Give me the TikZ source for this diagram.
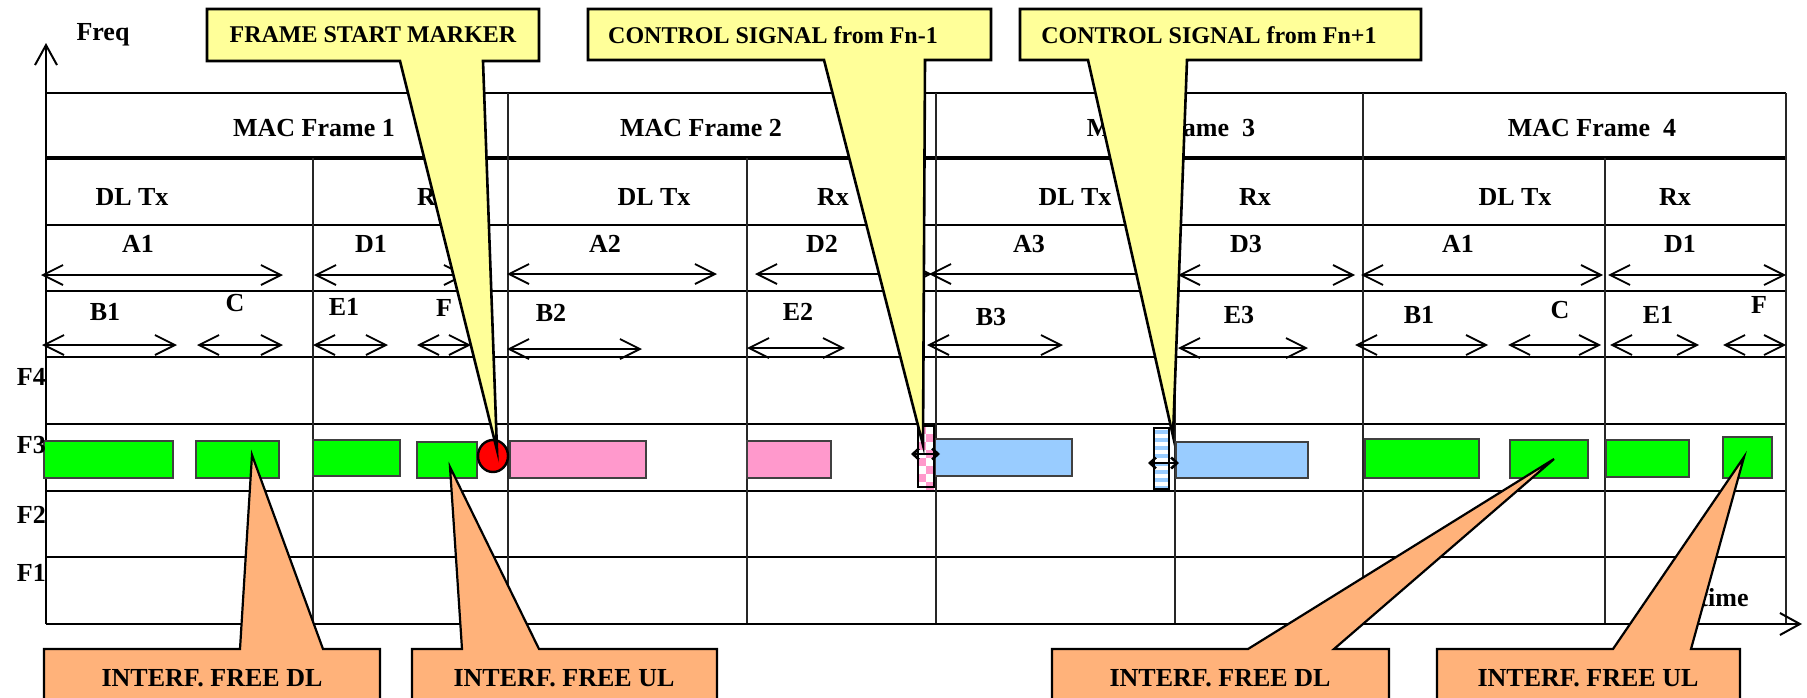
\documentclass[tikz,border=0pt]{standalone}
\usepackage{fontspec}
\setmainfont{Liberation Serif}
\usepackage{tikz}
\usetikzlibrary{arrows.meta}
\usepackage{xcolor}
\definecolor{calloutyellow}{RGB}{255,255,153}
\definecolor{calloutorange}{RGB}{255,178,122}
\definecolor{dlgreen}{RGB}{0,255,0}
\definecolor{ulpink}{RGB}{255,153,204}
\definecolor{ulblue}{RGB}{153,204,255}
\definecolor{markerred}{RGB}{255,0,0}
\tikzset{
  lbl/.style={font=\fontsize{26}{28}\selectfont\bfseries, inner sep=0pt},
  calloutlbl/.style={font=\fontsize{24}{26}\selectfont\bfseries, inner sep=0pt},
  rowline/.style={line width=2.2pt},
  colline/.style={line width=1.8pt, draw=black!85},
  axisarrow/.style={->, >={Straight Barb[length=20pt,width=22pt]}, line width=2pt},
  spanarrow/.style={<->, >={Straight Barb[length=20pt,width=20pt]}, line width=1.8pt},
  smallspan/.style={<->, >={Straight Barb[length=6pt,width=11pt]}, line width=2.6pt},
  dlblock/.style={fill=dlgreen, draw=black!75, line width=2pt},
  pinkblock/.style={fill=ulpink, draw=black!75, line width=2pt},
  blueblock/.style={fill=ulblue, draw=black!75, line width=2pt},
  yellowcallout/.style={fill=calloutyellow, draw=black, line width=2.6pt, line join=miter},
  orangecallout/.style={fill=calloutorange, draw=black, line width=2.2pt, line join=miter}
}

\begin{document}
\begin{tikzpicture}[x=1pt, y=-1pt]
  \useasboundingbox (0,0) rectangle (1807,697);
  \clip (0,0) rectangle (1807,697);

  % grid
  \foreach \y in {93,225,291,357,424,491,557,624}
    \draw[rowline] (46,\y) -- (1786,\y);
  \draw[rowline, line width=3.6pt] (46,158) -- (1786,158);
  \foreach \x in {508,936,1363,1786}
    \draw[colline] (\x,93) -- (\x,624);
  \foreach \x in {313,747,1175,1605}
    \draw[colline] (\x,158) -- (\x,624);

  % axes
  \coordinate (origin) at (46,624);
  \coordinate (freqtip) at (46,43);
  \coordinate (timetip) at (1802,624);
  \draw[axisarrow] (origin) -- (freqtip);
  \draw[axisarrow] (origin) -- (timetip);

  % spans
  \foreach \a/\b/\y in {41/283/275, 314/466/275, 507/717/274, 755/932/274,
      929/1170/274, 1178/1355/275, 1361/1603/275, 1608/1786/275,
      42/177/345, 197/283/345, 313/388/345, 417/471/345, 507/642/349,
      747/845/348, 927/1063/345, 1178/1308/348, 1355/1488/345,
      1508/1601/345, 1610/1699/345, 1723/1786/345}
    \draw[spanarrow] (\a,\y) -- (\b,\y);

  % bursts on F3
  \draw[dlblock] (44,441) rectangle (173,478);
  \draw[dlblock] (196,441) rectangle (279,478);
  \draw[dlblock] (313,440) rectangle (400,476);
  \draw[dlblock] (417,442) rectangle (477,478);
  \draw[pinkblock] (510,441) rectangle (646,478);
  \draw[pinkblock] (747,441) rectangle (831,478);
  \draw[blueblock] (935,439) rectangle (1072,476);
  \draw[blueblock] (1176,442) rectangle (1308,478);
  \draw[dlblock] (1365,439) rectangle (1479,478);
  \draw[dlblock] (1510,440) rectangle (1588,478);
  \draw[dlblock] (1606,440) rectangle (1689,477);
  \draw[dlblock] (1723,437) rectangle (1772,478);
  \draw[fill=markerred, line width=2.4pt] (493,456) ellipse (15 and 16);

  % control signals
  \fill[white] (918,426) rectangle (934,487);
  \foreach \i in {0,2,4,6} {
    \fill[ulpink] (918,{426+8*\i}) rectangle +(8,8);
    \fill[ulpink] (926,{434+8*\i}) rectangle +(8,8);
  }
  \draw[line width=2.5pt] (918,426) rectangle (934,487);
  \fill[white] (1154,428) rectangle (1169,489);
  \foreach \k in {0,...,7}
    \fill[ulblue] (1154,{430+8*\k}) rectangle +(15,4);
  \draw[line width=2.5pt] (1154,428) rectangle (1169,489);
  \draw[smallspan] (911,454) -- (940,454);
  \draw[smallspan] (1148,463) -- (1179,463);

  % labels
  \node[lbl] (freq) at (103,35) {Freq};
  \node[lbl] (time) at (1724,598) {time};
  \foreach \n/\y in {4/377,3/445,2/515,1/573}
    \node[lbl, anchor=east] (F\n) at (46,\y) {F\n};
  \node[lbl] (frame1) at (314,128) {MAC Frame 1};
  \node[lbl] (frame2) at (701,128) {MAC Frame 2};
  \node[lbl] (frame3) at (1171,128) {MAC Frame\ \ 3};
  \node[lbl] (frame4) at (1592,128) {MAC Frame\ \ 4};
  \foreach \x/\t/\n in {132/DL Tx/tx1, 433/Rx/rx1, 654/DL Tx/tx2, 833/Rx/rx2,
      1075/DL Tx/tx3, 1255/Rx/rx3, 1515/DL Tx/tx4, 1675/Rx/rx4}
    \node[lbl] (\n) at (\x,197) {\t};
  \foreach \x/\t/\n in {138/A1/a1, 371/D1/d1, 605/A2/a2, 822/D2/d2,
      1029/A3/a3, 1246/D3/d3, 1458/A1/a4, 1680/D1/d4}
    \node[lbl] (\n) at (\x,244) {\t};
  \foreach \x/\y/\t/\n in {105/312/B1/b1, 235/303/C/c1, 344/307/E1/e1,
      444/308/F/f1, 551/313/B2/b2, 798/312/E2/e2, 991/317/B3/b3,
      1239/315/E3/e3, 1419/315/B1/b4, 1560/310/C/c4, 1658/315/E1/e4,
      1759/305/F/f4}
    \node[lbl] (\n) at (\x,\y) {\t};

  % callouts
  \draw[yellowcallout] (207,9) -- (539,9) -- (539,61) -- (483,61) -- (497,450)
    -- (400,61) -- (207,61) -- cycle;
  \draw[yellowcallout] (588,9) -- (991,9) -- (991,60) -- (925,60) -- (923,445)
    -- (824,60) -- (588,60) -- cycle;
  \draw[yellowcallout] (1020,9) -- (1421,9) -- (1421,60) -- (1187,60) -- (1173,436)
    -- (1088,60) -- (1020,60) -- cycle;
  \node[calloutlbl] (marker) at (373,35) {FRAME START MARKER};
  \node[calloutlbl] (ctrlprev) at (773,35) {CONTROL SIGNAL from Fn-1};
  \node[calloutlbl] (ctrlnext) at (1209,35) {CONTROL SIGNAL from Fn+1};

  \draw[orangecallout] (44,712) -- (44,649) -- (240,649) -- (252,455) -- (323,649)
    -- (380,649) -- (380,712);
  \draw[orangecallout] (412,712) -- (412,649) -- (462,649) -- (450,467) -- (539,649)
    -- (717,649) -- (717,712);
  \draw[orangecallout] (1052,712) -- (1052,649) -- (1248,649) -- (1554,459) -- (1334,649)
    -- (1389,649) -- (1389,712);
  \draw[orangecallout] (1437,712) -- (1437,649) -- (1613,649) -- (1744,457) -- (1691,649)
    -- (1740,649) -- (1740,712);
  \node[lbl] (freedl1) at (212,678) {INTERF. FREE DL};
  \node[lbl] (freeul1) at (564,678) {INTERF. FREE UL};
  \node[lbl] (freedl2) at (1220,678) {INTERF. FREE DL};
  \node[lbl] (freeul2) at (1588,678) {INTERF. FREE UL};
\end{tikzpicture}
\end{document}
